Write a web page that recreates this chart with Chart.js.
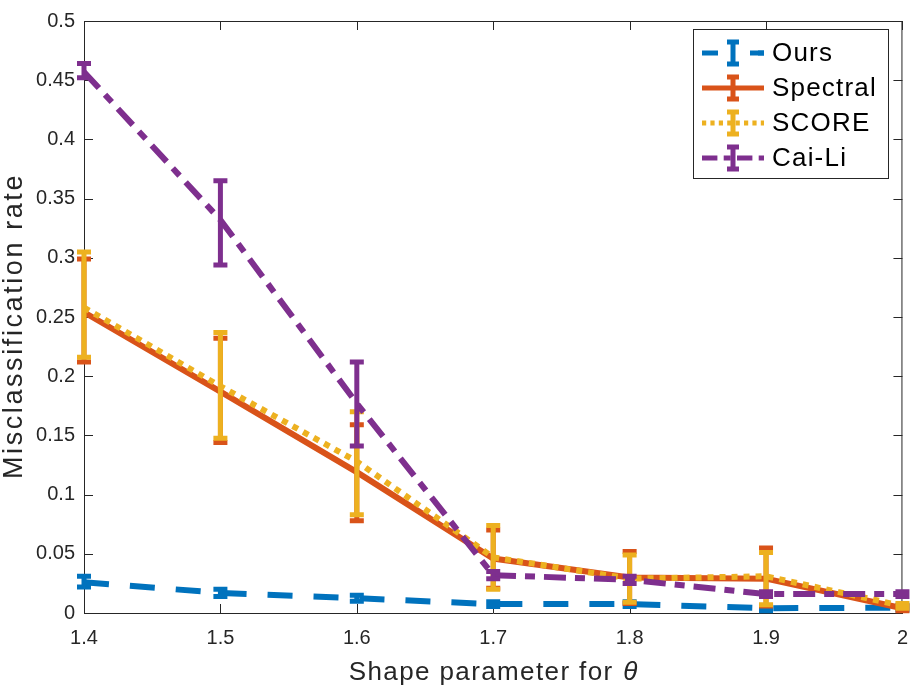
<!DOCTYPE html>
<html>
<head>
<meta charset="utf-8">
<script src="https://cdn.jsdelivr.net/npm/chart.js@4.4.1/dist/chart.umd.min.js"></script>
<style>
  html, body { margin: 0; padding: 0; background: #fff; }
  #wrap { width: 921px; height: 692px; }
</style>
</head>
<body>
<div id="wrap"><canvas id="errChart" width="921" height="692"></canvas></div>
<script>
// Data
const theta = [1.4, 1.5, 1.6, 1.7, 1.8, 1.9, 2.0];
const xTickLabels = ["1.4", "1.5", "1.6", "1.7", "1.8", "1.9", "2"];
const yTickLabels = ["0", "0.05", "0.1", "0.15", "0.2", "0.25", "0.3", "0.35", "0.4", "0.45", "0.5"];

const ours    = [0.026, 0.017, 0.0125, 0.0075, 0.0075, 0.004, 0.0045];
const oursLo  = [0.022, 0.014, 0.010, 0.0055, 0.0055, 0.002, 0.0025];
const oursHi  = [0.031, 0.020, 0.015, 0.0095, 0.0095, 0.006, 0.0065];

const spectral   = [0.254, 0.187, 0.119, 0.046, 0.030, 0.029, 0.004];
const spectralLo = [0.212, 0.144, 0.078, 0.021, 0.008, 0.006, 0.002];
const spectralHi = [0.299, 0.232, 0.159, 0.070, 0.052, 0.055, 0.006];

const score   = [0.258, 0.1915, 0.128, 0.047, 0.029, 0.031, 0.006];
const scoreLo = [0.216, 0.1476, 0.083, 0.020, 0.009, 0.007, 0.004];
const scoreHi = [0.305, 0.237, 0.170, 0.074, 0.049, 0.051, 0.008];

const caiLi   = [0.457, 0.332, 0.177, 0.032, 0.028, 0.016, 0.016];
const caiLiLo = [0.452, 0.294, 0.141, 0.029, 0.025, 0.014, 0.014];
const caiLiHi = [0.464, 0.365, 0.212, 0.035, 0.031, 0.018, 0.018];

const seriesNames = ["Ours", "Spectral", "SCORE", "Cai-Li"];
const xTitle = "Shape parameter for ";
const xTitleSymbol = "\u03B8";
const yTitle = "Misclassification rate";

const FONT = "'Liberation Sans', Arial, Helvetica, sans-serif";
const AXIS_COLOR = "#262626";

const styles = [
  { color: "#0072BD", dash: [25, 21] },
  { color: "#D95319", dash: [] },
  { color: "#EDB120", dash: [6, 6] },
  { color: "#7E2F8E", dash: [22, 9, 10, 9] }
];
const errLo = [oursLo, spectralLo, scoreLo, caiLiLo];
const errHi = [oursHi, spectralHi, scoreHi, caiLiHi];
const means = [ours, spectral, score, caiLi];

function toPoints(arr) {
  return arr.map((v, i) => ({ x: theta[i], y: v }));
}

function drawErrorBar(ctx, x, yTop, yBot, color, capHalf, lw) {
  ctx.save();
  ctx.setLineDash([]);
  ctx.strokeStyle = color;
  ctx.lineWidth = lw;
  ctx.lineCap = "butt";
  ctx.beginPath();
  ctx.moveTo(x, yTop);
  ctx.lineTo(x, yBot);
  ctx.moveTo(x - capHalf, yTop);
  ctx.lineTo(x + capHalf, yTop);
  ctx.moveTo(x - capHalf, yBot);
  ctx.lineTo(x + capHalf, yBot);
  ctx.stroke();
  ctx.restore();
}

// error bars, inward ticks, box, titles and legend
const figurePlugin = {
  id: "figurePlugin",
  beforeDatasetsDraw(chart) {
    const { ctx, chartArea: a, scales } = chart;
    ctx.save();
    ctx.strokeStyle = AXIS_COLOR;
    ctx.lineWidth = 1;
    ctx.beginPath();
    ctx.moveTo(a.left, a.top + 0.5);
    ctx.lineTo(a.right, a.top + 0.5);
    ctx.moveTo(a.right - 0.5, a.top);
    ctx.lineTo(a.right - 0.5, a.bottom);
    const tl = 9;
    scales.x.ticks.forEach(t => {
      const px = Math.round(scales.x.getPixelForValue(t.value)) + 0.5;
      ctx.moveTo(px, a.bottom); ctx.lineTo(px, a.bottom - tl);
      ctx.moveTo(px, a.top); ctx.lineTo(px, a.top + tl);
    });
    scales.y.ticks.forEach(t => {
      const py = Math.round(scales.y.getPixelForValue(t.value)) + 0.5;
      ctx.moveTo(a.left, py); ctx.lineTo(a.left + tl, py);
      ctx.moveTo(a.right, py); ctx.lineTo(a.right - tl, py);
    });
    ctx.stroke();
    ctx.restore();
  },
  afterDatasetDraw(chart, args) {
    const i = args.index;
    const { ctx, scales } = chart;
    theta.forEach((t, k) => {
      const px = scales.x.getPixelForValue(t);
      drawErrorBar(ctx, px, scales.y.getPixelForValue(errHi[i][k]),
        scales.y.getPixelForValue(errLo[i][k]), styles[i].color, 7, 5);
    });
  },
  afterDraw(chart) {
    const { ctx, chartArea: a } = chart;
    ctx.save();
    ctx.fillStyle = AXIS_COLOR;
    ctx.textBaseline = "alphabetic";
    ctx.textAlign = "left";
    // x title, with an italic theta
    ctx.font = "26px " + FONT;
    const wMain = ctx.measureText(xTitle).width;
    ctx.font = "italic 26px " + FONT;
    const wSym = ctx.measureText(xTitleSymbol).width;
    const ls = (289 - wMain - wSym) / (xTitle.length + 1);
    ctx.letterSpacing = ls.toFixed(2) + "px";
    const x0 = (a.left + a.right) / 2 - 289 / 2;
    ctx.font = "26px " + FONT;
    ctx.fillText(xTitle, x0, 680);
    const wMainSp = ctx.measureText(xTitle).width;
    ctx.font = "italic 26px " + FONT;
    ctx.fillText(xTitleSymbol, x0 + wMainSp + 1, 680);
    // y title
    ctx.letterSpacing = "0px";
    ctx.font = "27px " + FONT;
    const w = ctx.measureText(yTitle).width;
    ctx.letterSpacing = ((306 - w) / yTitle.length).toFixed(2) + "px";
    ctx.textAlign = "center";
    ctx.translate(22, 326);
    ctx.rotate(-Math.PI / 2);
    ctx.fillText(yTitle, 0, 0);
    ctx.restore();

    // legend
    ctx.save();
    const lx = 693, ly = 29, lw = 195, lh = 149;
    ctx.fillStyle = "#fff";
    ctx.fillRect(lx, ly, lw, lh);
    ctx.strokeStyle = AXIS_COLOR;
    ctx.lineWidth = 1;
    ctx.strokeRect(lx + 0.5, ly + 0.5, lw, lh);
    const rows = [53, 88, 123, 158];
    ctx.font = "26px " + FONT;
    ctx.letterSpacing = "1.2px";
    ctx.textBaseline = "middle";
    ctx.textAlign = "left";
    seriesNames.forEach((name, i) => {
      const y = rows[i];
      ctx.strokeStyle = styles[i].color;
      ctx.lineWidth = 5;
      ctx.lineCap = "butt";
      ctx.setLineDash(i === 0 ? [16, 40] : styles[i].dash.map(d => d * 0.7));
      ctx.beginPath();
      ctx.moveTo(702, y);
      ctx.lineTo(764, y);
      ctx.stroke();
      if (i === 0) {
        ctx.setLineDash([]);
        ctx.beginPath();
        ctx.moveTo(750, y); ctx.lineTo(764, y);
        ctx.stroke();
      }
      drawErrorBar(ctx, 733, y - 11, y + 11, styles[i].color, 6, 5);
      ctx.fillStyle = "#000";
      ctx.fillText(name, 772, y + 1);
    });
    ctx.restore();
  }
};

const config = {
  type: "line",
  data: {
    datasets: seriesNames.map((name, i) => ({
      label: name,
      data: toPoints(means[i]),
      borderColor: styles[i].color,
      backgroundColor: styles[i].color,
      borderWidth: 6,
      borderDash: styles[i].dash,
      borderCapStyle: "butt",
      pointRadius: 0,
      tension: 0,
      clip: false,
      order: 4 - i
    }))
  },
  options: {
    responsive: false,
    animation: false,
    events: [],
    layout: { padding: { top: 10, right: 12, left: 0, bottom: 0 } },
    plugins: { legend: { display: false }, tooltip: { enabled: false } },
    scales: {
      x: {
        type: "linear",
        min: 1.4,
        max: 2,
        afterFit: s => { s.height = 79; },
        afterBuildTicks: s => { s.ticks = theta.map(v => ({ value: v })); },
        grid: { display: false, drawTicks: false },
        border: { display: true, color: AXIS_COLOR, width: 1 },
        ticks: {
          color: AXIS_COLOR,
          font: { family: FONT, size: 20 },
          padding: 13,
          maxRotation: 0,
          autoSkip: false,
          callback: (v, idx) => xTickLabels[idx]
        }
      },
      y: {
        type: "linear",
        min: 0,
        max: 0.5,
        afterFit: s => { s.width = 84; },
        afterBuildTicks: s => { s.ticks = yTickLabels.map(l => ({ value: parseFloat(l) })); },
        grid: { display: false, drawTicks: false },
        border: { display: true, color: AXIS_COLOR, width: 1 },
        ticks: {
          color: AXIS_COLOR,
          font: { family: FONT, size: 20 },
          padding: 9,
          autoSkip: false,
          callback: (v, idx) => yTickLabels[idx]
        }
      }
    }
  },
  plugins: [figurePlugin]
};

window.addEventListener("DOMContentLoaded", () => {
  const errChart = new Chart(document.getElementById("errChart"), config);
});
</script>
</body>
</html>
